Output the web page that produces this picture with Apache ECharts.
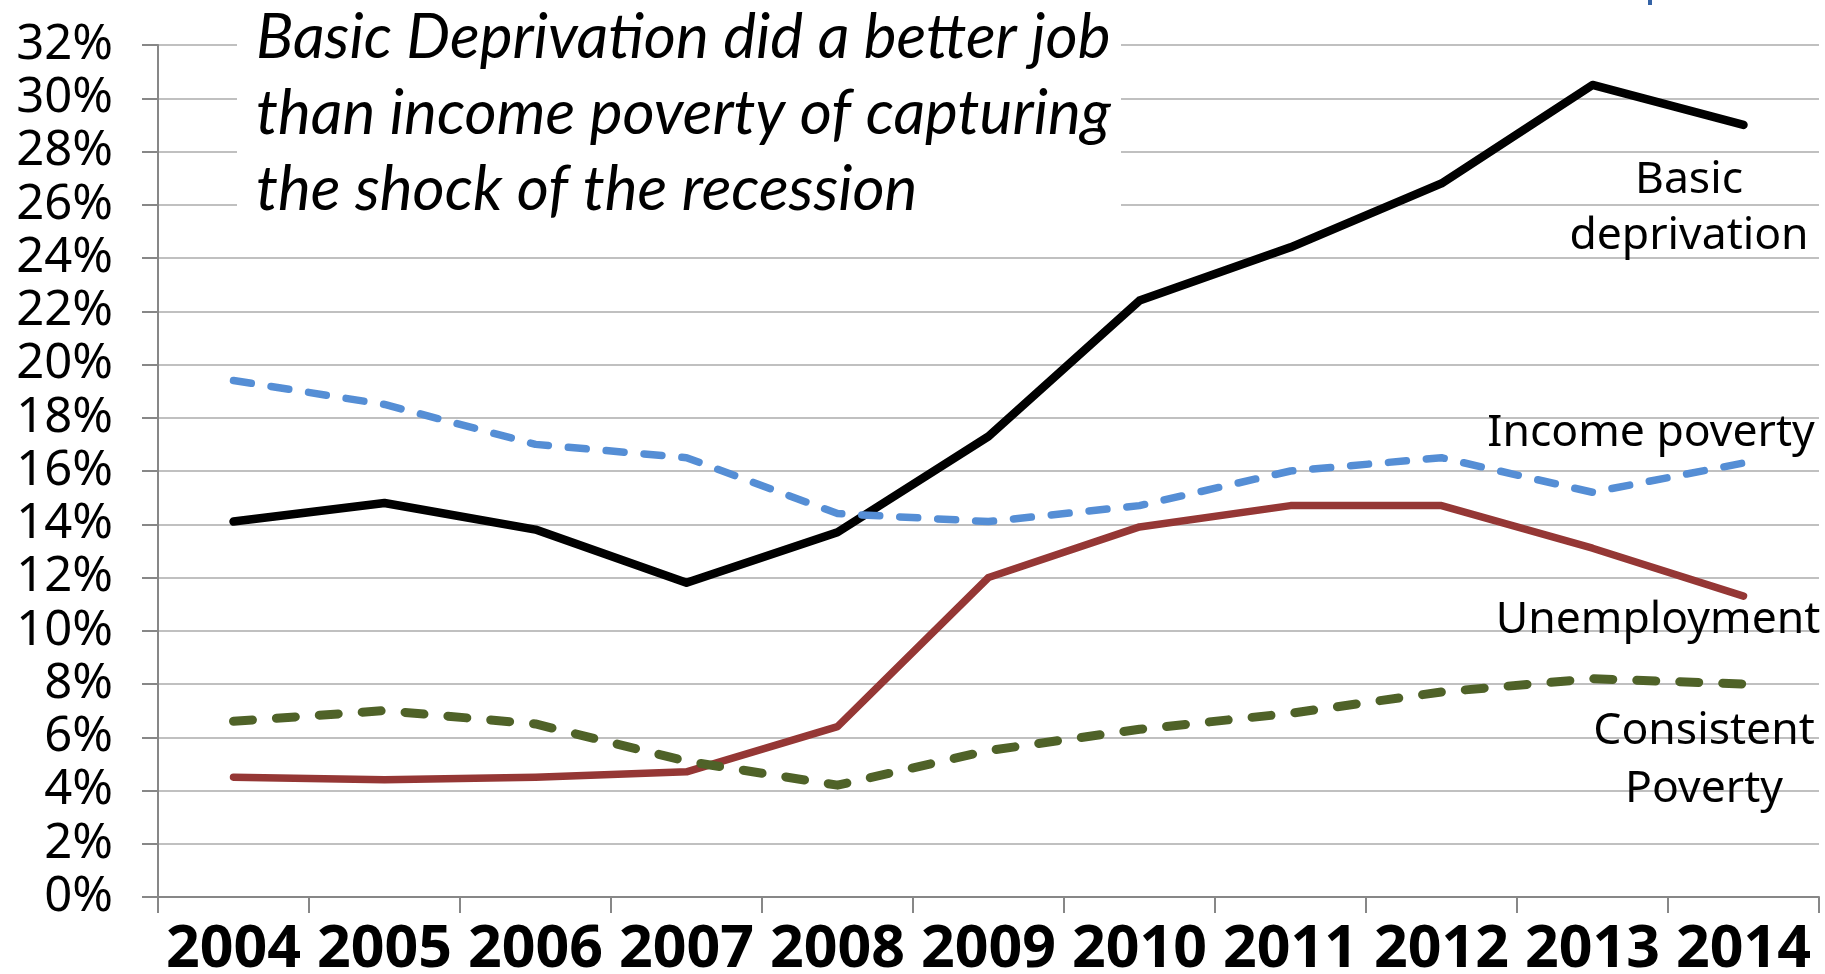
<!DOCTYPE html>
<html>
<head>
<meta charset="utf-8">
<script src="https://cdn.jsdelivr.net/npm/echarts@6/dist/echarts.min.js"></script>
<style>
  html, body { margin: 0; padding: 0; background: #ffffff; }
  #chart { width: 1825px; height: 974px; }
</style>
</head>
<body>
<div id="chart"></div>
<script>
// Survey years on the category axis
const years = ['2004', '2005', '2006', '2007', '2008', '2009', '2010', '2011', '2012', '2013', '2014'];

// Rates in percent, one value per year
const basicDeprivation = [14.1, 14.8, 13.8, 11.8, 13.7, 17.3, 22.4, 24.4, 26.8, 30.5, 29.0];
const incomePoverty    = [19.4, 18.5, 17.0, 16.5, 14.4, 14.1, 14.7, 16.0, 16.5, 15.2, 16.3];
const unemployment     = [4.5, 4.4, 4.5, 4.7, 6.4, 12.0, 13.9, 14.7, 14.7, 13.1, 11.3];
const consistentPoverty = [6.6, 7.0, 6.5, 5.1, 4.2, 5.5, 6.3, 6.9, 7.7, 8.2, 8.0];

// Value axis range
const yMin = 0;
const yMax = 32;
const yStep = 2;

const headline = [
  'Basic Deprivation did a better job',
  'than income poverty of capturing',
  'the shock of the recession'
];

const LABEL_FONT = '"Noto Sans", "DejaVu Sans", sans-serif';
const HEADLINE_FONT = 'italic 62px Lato, "Open Sans", sans-serif';

const chart = echarts.init(document.getElementById('chart'), null, { renderer: 'canvas' });

function plainText(text, x, y, font, align, lh) {
  return {
    type: 'text',
    z: 20,
    style: {
      x: x, y: y,
      text: text,
      fill: '#000000',
      font: font,
      align: align,
      verticalAlign: 'middle',
      lineHeight: lh || 56
    }
  };
}

const seriesFont = '44.5px ' + LABEL_FONT;

const option = {
  backgroundColor: '#ffffff',
  animation: false,
  grid: {
    left: 158, right: 6, top: 45, bottom: 77,
    containLabel: false,
    outerBoundsMode: 'none'
  },
  xAxis: {
    type: 'category',
    data: years,
    boundaryGap: true,
    axisLine: { show: true, lineStyle: { color: '#878787', width: 2 } },
    axisTick: { show: true, alignWithLabel: false, length: 16, lineStyle: { color: '#878787', width: 2 } },
    axisLabel: {
      color: '#000000',
      fontFamily: LABEL_FONT,
      fontWeight: 'bold',
      fontSize: 59,
      margin: 24,
      interval: 0
    },
    splitLine: { show: false }
  },
  yAxis: {
    type: 'value',
    min: yMin,
    max: yMax,
    interval: yStep,
    axisLine: { show: true, lineStyle: { color: '#878787', width: 2 } },
    axisTick: { show: true, inside: false, length: 16, lineStyle: { color: '#878787', width: 2 } },
    axisLabel: {
      color: '#000000',
      fontFamily: LABEL_FONT,
      fontSize: 49,
      margin: 45,
      formatter: '{value}%'
    },
    splitLine: { show: true, lineStyle: { color: '#c0c0c0', width: 2 } }
  },
  series: [
    {
      name: 'Basic deprivation',
      type: 'line',
      data: basicDeprivation,
      symbol: 'none',
      z: 3,
      lineStyle: { color: '#000000', width: 8.5, cap: 'round', join: 'round' }
    },
    {
      name: 'Income poverty',
      type: 'line',
      data: incomePoverty,
      symbol: 'none',
      z: 4,
      lineStyle: { color: '#558ed5', width: 7.5, type: [18, 20], cap: 'round', join: 'round' }
    },
    {
      name: 'Unemployment',
      type: 'line',
      data: unemployment,
      symbol: 'none',
      z: 5,
      lineStyle: { color: '#953735', width: 7.5, cap: 'round', join: 'round' }
    },
    {
      name: 'Consistent Poverty',
      type: 'line',
      data: consistentPoverty,
      symbol: 'none',
      z: 6,
      lineStyle: { color: '#4f6228', width: 9, type: [19, 24], cap: 'round', join: 'round' }
    }
  ],
  graphic: [
    // white panel behind the headline, hiding the grid lines
    {
      type: 'rect',
      z: 10,
      shape: { x: 237, y: 0, width: 884, height: 228 },
      style: { fill: '#ffffff' }
    },
    plainText(headline[0], 256, 38, HEADLINE_FONT, 'left'),
    plainText(headline[1], 256, 114, HEADLINE_FONT, 'left'),
    plainText(headline[2], 256, 190, HEADLINE_FONT, 'left'),
    // small blue fragment at the top edge
    {
      type: 'rect',
      z: 11,
      shape: { x: 1648, y: 0, width: 4, height: 5 },
      style: { fill: '#3563a6' }
    },
    plainText('Basic\ndeprivation', 1689, 208, seriesFont, 'center', 56),
    plainText('Income poverty', 1651, 433, seriesFont, 'center'),
    plainText('Unemployment', 1658, 620, seriesFont, 'center'),
    plainText('Consistent\nPoverty', 1704, 760, seriesFont, 'center', 58)
  ]
};

chart.setOption(option);
</script>
</body>
</html>
